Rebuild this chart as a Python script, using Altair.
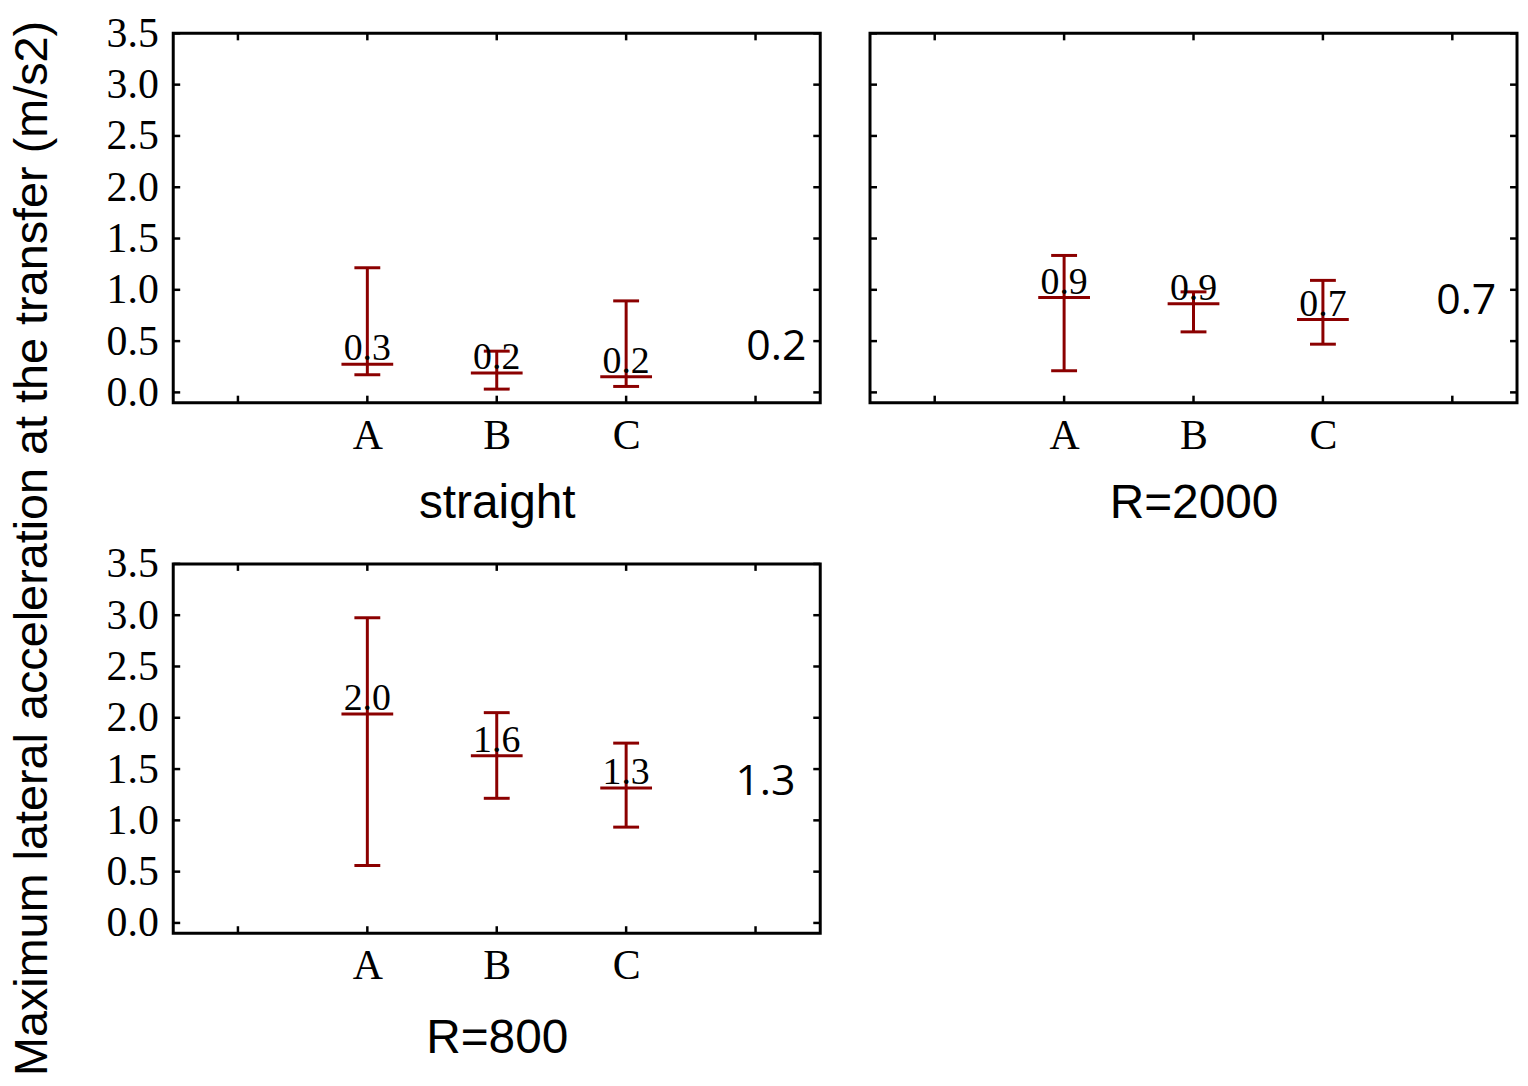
import json
import pandas as pd
import altair as alt

# ---------------- data ----------------
panels = ["straight", "R=2000", "R=800"]
categories = ["A", "B", "C"]

straight_mean = [0.275, 0.188, 0.152]
straight_low = [0.172, 0.032, 0.058]
straight_high = [1.215, 0.402, 0.892]
straight_labels = ["0.3", "0.2", "0.2"]

r2000_mean = [0.924, 0.863, 0.710]
r2000_low = [0.211, 0.590, 0.470]
r2000_high = [1.335, 0.980, 1.092]
r2000_labels = ["0.9", "0.9", "0.7"]

r800_mean = [2.037, 1.630, 1.316]
r800_low = [0.560, 1.215, 0.934]
r800_high = [2.975, 2.050, 1.753]
r800_labels = ["2.0", "1.6", "1.3"]

panel_average = ["0.2", "0.7", "1.3"]

y_ticks = [0.0, 0.5, 1.0, 1.5, 2.0, 2.5, 3.0, 3.5]
x_ticks = [0, 1, 2, 3, 4]

y_title = "Maximum lateral acceleration at the transfer (m/s2)"

series = {
    "straight": (straight_mean, straight_low, straight_high, straight_labels),
    "R=2000": (r2000_mean, r2000_low, r2000_high, r2000_labels),
    "R=800": (r800_mean, r800_low, r800_high, r800_labels),
}

# ---------------- style ----------------
W, H = 650, 371
RED = "#8B0000"
SERIF = "Liberation Serif"
SANS = "Liberation Sans"
TICK_LEN = 7
# pixel position of the big average number inside each panel
avg_pos = {"straight": (606, 315), "R=2000": (599, 269), "R=800": (595, 219)}

xscale = alt.Scale(domain=[-0.5, 4.5], nice=False, zero=False)
yscale = alt.Scale(domain=[-0.1, 3.5], nice=False, zero=False)


def make_panel(name, avg_text, show_y, title_pad):
    mean, low, high, labels = series[name]
    df = pd.DataFrame({
        "cat": categories,
        "pos": [i + 1 for i in range(len(categories))],
        "mean": mean,
        "low": low,
        "high": high,
        "label": labels,
    })
    xaxis = alt.Axis(
        values=[i + 1 for i in range(len(categories))],
        labelExpr=f"{json.dumps(categories)}[datum.value - 1]",
        labelFont=SERIF, labelFontSize=42, labelColor="black",
        labelPadding=13, labelFlush=False,
        ticks=False, domain=False, grid=False,
        title=name, titleFont=SANS, titleFontSize=48, titleFontWeight="normal",
        titleColor="black", titlePadding=title_pad,
    )
    if show_y:
        yaxis = alt.Axis(
            values=y_ticks, format=".1f",
            labelFont=SERIF, labelFontSize=42, labelColor="black",
            labelPadding=15, labelFlush=False,
            ticks=False, domain=False, grid=False, title=None,
        )
    else:
        yaxis = None

    def X(f):
        return alt.X(f, scale=xscale, axis=xaxis)

    def Y(f):
        return alt.Y(f, scale=yscale, axis=yaxis)

    base = alt.Chart(df)
    stem = base.mark_rule(color=RED, strokeWidth=3).encode(
        x=X("pos:Q"), y=Y("low:Q"), y2="high:Q")
    cap_hi = base.mark_tick(color=RED, orient="horizontal", size=26, thickness=3, opacity=1).encode(
        x=X("pos:Q"), y=Y("high:Q"))
    cap_lo = base.mark_tick(color=RED, orient="horizontal", size=26, thickness=3, opacity=1).encode(
        x=X("pos:Q"), y=Y("low:Q"))
    mean_line = base.mark_tick(color=RED, orient="horizontal", size=52, thickness=3, opacity=1).encode(
        x=X("pos:Q"), y=Y("mean:Q"))
    text = base.mark_text(font=SERIF, fontSize=38, color="black", baseline="alphabetic",
                          align="center", dy=-4).encode(
        x=X("pos:Q"), y=Y("mean:Q"), text="label:N")

    ydf = pd.DataFrame({"v": y_ticks})
    xdf = pd.DataFrame({"v": x_ticks})
    tl = alt.Chart(ydf).mark_rule(color="black", strokeWidth=2.5).encode(
        y=Y("v:Q"), x=alt.value(0), x2=alt.value(TICK_LEN))
    tr = alt.Chart(ydf).mark_rule(color="black", strokeWidth=2.5).encode(
        y=Y("v:Q"), x=alt.value(W - TICK_LEN), x2=alt.value(W))
    tb = alt.Chart(xdf).mark_rule(color="black", strokeWidth=2.5).encode(
        x=X("v:Q"), y=alt.value(H - TICK_LEN), y2=alt.value(H))
    tt = alt.Chart(xdf).mark_rule(color="black", strokeWidth=2.5).encode(
        x=X("v:Q"), y=alt.value(0), y2=alt.value(TICK_LEN))

    px, py = avg_pos[name]
    avg = alt.Chart(pd.DataFrame({"t": [avg_text]})).mark_text(
        font="Open Sans", fontSize=43, color="black", align="center", baseline="middle"
    ).encode(text="t:N", x=alt.value(px), y=alt.value(py))

    return alt.layer(stem, cap_hi, cap_lo, mean_line, text, tl, tr, tb, tt, avg).properties(
        width=W, height=H)


p1 = make_panel(panels[0], panel_average[0], True, 23)
p2 = make_panel(panels[1], panel_average[1], False, 23)
p3 = make_panel(panels[2], panel_average[2], True, 28)

chart = alt.vconcat(
    alt.hconcat(p1, p2, spacing=44), p3, spacing=12
).properties(
    padding=0,
    title=alt.TitleParams(
        text=y_title, orient="left", anchor="middle", font=SANS, fontSize=47,
        fontWeight="normal", color="black", offset=48, dx=-11,
    ),
).configure_view(stroke="black", strokeWidth=3)

chart.save("out.html", embed_options={"renderer": "svg", "actions": False})
